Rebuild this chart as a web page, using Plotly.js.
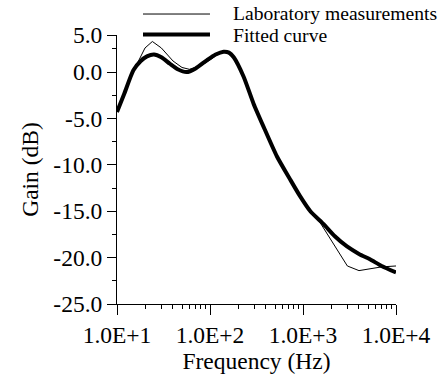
<!DOCTYPE html>
<html>
<head>
<meta charset="utf-8">
<script src="https://cdn.plot.ly/plotly-3.0.1.min.js"></script>
<style>html,body{margin:0;padding:0;background:#fff;}#chart{width:441px;height:376px;}</style>
</head>
<body>
<div id="chart"></div>
<script>
// Laboratory measurements (thin line)
var measFreq = [10, 15, 20, 24, 30, 40, 50, 60, 80, 100, 125, 150, 200, 300, 400, 500, 700, 1000, 1500, 2000, 3000, 4000, 7000, 10000];
var measGain = [-4.3, 0.1, 2.6, 3.3, 2.6, 1.2, 0.5, 0.3, 0.7, 1.3, 2.0, 2.2, 1.0, -3.5, -6.3, -8.7, -11.3, -13.9, -16.1, -18.1, -20.9, -21.4, -21.0, -20.9];

// Fitted curve (thick line)
var fitFreq = [10, 12, 15, 18, 21, 25, 30, 37, 45, 56, 70, 93, 115, 140, 160, 180, 230, 294, 377, 525, 730, 933, 1200, 1667, 2200, 2970, 4000, 5300, 7000, 10000];
var fitGain = [-4.3, -2.3, 0.2, 1.2, 1.7, 1.9, 1.6, 0.9, 0.3, 0.0, 0.4, 1.3, 1.9, 2.2, 2.1, 1.6, -0.5, -3.4, -5.9, -9.1, -11.6, -13.4, -15.0, -16.4, -17.7, -18.8, -19.6, -20.2, -20.9, -21.6];

// Axis ticks
var xTickVals = [10, 100, 1000, 10000];
var xTickText = ["1.0E+1", "1.0E+2", "1.0E+3", "1.0E+4"];
var xMinorVals = [20,30,40,50,60,70,80,90,200,300,400,500,600,700,800,900,2000,3000,4000,5000,6000,7000,8000,9000];
var yTickVals = [-25, -20, -15, -10, -5, 0, 4];
var yTickText = ["-25.0", "-20.0", "-15.0", "-10.0", "-5.0", "0.0", "5.0"];
var yMinorVals = [-22.5, -17.5, -12.5, -7.5, -2.5, 2.5];

var legendLabels = ["Laboratory measurements", "Fitted curve"];

var font = "Liberation Serif";

var traces = [
  {x: fitFreq, y: fitGain, type: 'scatter', mode: 'lines', name: legendLabels[1],
   line: {color: '#000', width: 4, shape: 'spline', smoothing: 0.6}, showlegend: false},
  {x: measFreq, y: measGain, type: 'scatter', mode: 'lines', name: legendLabels[0],
   line: {color: '#000', width: 1}, showlegend: false}
];

var layout = {
  width: 441, height: 376,
  margin: {l: 117, r: 45, t: 35, b: 72, pad: 0},
  paper_bgcolor: '#fff', plot_bgcolor: '#fff',
  font: {family: font, color: '#000', size: 23},
  showlegend: false,
  xaxis: {
    type: 'log', range: [1, 4],
    tickmode: 'array', tickvals: xTickVals, ticktext: xTickText,
    ticks: 'outside', ticklen: 10, tickwidth: 1, tickcolor: '#000',
    minor: {tickmode: 'array', tickvals: xMinorVals, ticks: 'outside', ticklen: 4, tickwidth: 1, tickcolor: '#000', showgrid: false},
    showline: true, linecolor: '#000', linewidth: 1, mirror: false,
    showgrid: false, zeroline: false,
    tickfont: {family: font, size: 23.5, color: '#000'},
    title: {text: 'Frequency (Hz)', font: {family: font, size: 23.5, color: '#000'}, standoff: 0}
  },
  yaxis: {
    range: [-25, 4],
    tickmode: 'array', tickvals: yTickVals, ticktext: yTickText,
    ticks: 'outside', ticklen: 9, tickwidth: 1, tickcolor: '#000',
    minor: {tickmode: 'array', tickvals: yMinorVals, ticks: 'outside', ticklen: 4, tickwidth: 1, tickcolor: '#000', showgrid: false},
    showline: true, linecolor: '#000', linewidth: 1, mirror: false,
    showgrid: false, zeroline: false,
    tickfont: {family: font, size: 23.5, color: '#000'},
    title: {text: 'Gain (dB)', font: {family: font, size: 23.5, color: '#000'}, standoff: 8}
  },
  shapes: [
    {type: 'line', xref: 'paper', yref: 'paper', x0: 0.0932, x1: 0.3333, y0: 1.078, y1: 1.078, line: {color: '#000', width: 1}},
    {type: 'line', xref: 'paper', yref: 'paper', x0: 0.0932, x1: 0.3333, y0: 1.002, y1: 1.002, line: {color: '#000', width: 4}}
  ],
  annotations: [
    {xref: 'paper', yref: 'paper', x: 0.4125, y: 1.08, xanchor: 'left', yanchor: 'middle', showarrow: false,
     borderpad: 0, text: legendLabels[0], font: {family: font, size: 19.6, color: '#000'}},
    {xref: 'paper', yref: 'paper', x: 0.4125, y: 1.0, xanchor: 'left', yanchor: 'middle', showarrow: false,
     borderpad: 0, text: legendLabels[1], font: {family: font, size: 19.6, color: '#000'}}
  ]
};

Plotly.newPlot('chart', traces, layout, {staticPlot: true, displayModeBar: false});
</script>
</body>
</html>
